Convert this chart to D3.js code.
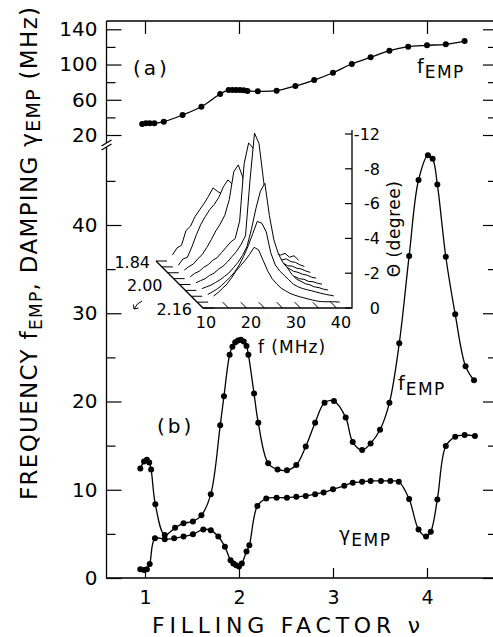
<!DOCTYPE html>
<html><head><meta charset="utf-8">
<script src="https://cdn.jsdelivr.net/npm/d3@7"></script>
<style>body{margin:0;background:#fff}svg{display:block}</style>
</head><body>
<svg id="c" width="493" height="637"></svg>
<script>
// ---------------- DATA ----------------
// panel (a): f_EMP (MHz) vs filling factor
const nuA = [0.97,1.01,1.05,1.10,1.20,1.40,1.60,1.80,1.89,1.93,1.97,2.01,2.05,2.09,2.20,2.40,2.60,2.80,3.00,3.20,3.40,3.60,3.80,4.00,4.20,4.40];
const fEmpA = [32.5,33.3,33.3,33.3,35.1,42.7,52.1,66.5,71.1,71.1,71.1,71.1,70.7,70.0,69.6,70.3,75.6,82.4,90.7,100.6,108.2,115.7,120.3,121.8,123.0,126.7];
// panel (b): f_EMP
const nuFB = [0.95,0.99,1.02,1.045,1.065,1.11,1.21,1.32,1.41,1.51,1.60,1.70,1.80,1.84,1.90,1.93,1.96,1.99,2.02,2.05,2.08,2.10,2.16,2.205,2.31,2.41,2.51,2.61,2.71,2.81,2.91,3.01,3.135,3.21,3.31,3.40,3.50,3.60,3.705,3.81,3.91,4.01,4.06,4.11,4.20,4.30,4.41,4.50];
const fEmpB = [12.4,13.2,13.4,13.1,12.3,8.35,4.87,5.7,6.2,6.4,7.1,9.5,17.3,20.6,25.3,26.2,26.7,26.9,27.0,26.8,26.3,25.3,20.9,17.6,13.0,12.3,12.2,12.8,14.9,17.6,19.85,20.05,18.2,15.4,14.5,15.25,16.8,19.85,26.6,36.5,45.1,47.9,47.5,44.6,36.4,29.9,24.0,22.4];
// panel (b): gamma_EMP
const nuGB = [0.95,0.99,1.02,1.05,1.106,1.21,1.31,1.41,1.51,1.62,1.70,1.78,1.85,1.91,1.94,1.97,2.00,2.03,2.08,2.11,2.195,2.29,2.40,2.51,2.61,2.71,2.81,2.90,3.00,3.12,3.21,3.31,3.40,3.51,3.61,3.70,3.81,3.91,3.99,4.04,4.11,4.20,4.30,4.40,4.51];
const gEmpB = [1.0,0.9,1.0,1.6,4.5,4.4,4.5,4.7,4.95,5.5,5.4,4.7,3.55,2.0,1.65,1.45,1.3,1.65,3.0,3.7,8.15,9.0,9.1,9.1,9.2,9.3,9.5,9.7,10.05,10.45,10.8,10.9,11.0,11.0,11.0,10.9,8.95,5.5,4.7,5.25,8.9,14.95,16.0,16.2,16.1];
// axes
const xTicks = [1,2,3,4];
const yTicksA = [20,40,60,80,100,120,140];
const yLabelsA = [20,60,100,140];
const yTicksB = [0,5,10,15,20,25,30,35,40,45];
const yLabelsB = [0,10,20,30,40];
// inset: Kerr angle spectra theta(f) at several filling factors
const insetNu = [1.84,1.88,1.92,1.96,2.00,2.04,2.08,2.12];
const insetFreq = [13,14,15,16,17,18,19,20,21,22,23,24,25,26,27,28,29,30,31,32,33,34,35,36,37,38,39,40,41];
const theta184 = [0.35,0.75,0.9,1.75,2.0,2.55,2.93,3.3,3.72,4.2,4.0,3.85,3.1,2.2,1.7,1.35,1.12,0.95,0.82,0.75,0.62,0.58,0.5,0.46,0.34,0.44,0.22,0.3,0.05];
const theta188 = [0.1,0.45,0.55,1.15,1.85,2.45,2.9,3.3,3.6,4.0,4.6,5.0,4.75,3.8,2.8,2.0,1.5,1.15,0.95,0.8,0.72,0.6,0.52,0.4,0.46,0.3,0.26,0.12,0.03];
const theta192 = [0.15,0.35,0.5,0.8,1.05,1.45,1.9,2.4,2.8,3.3,4.2,5.8,6.2,5.5,4.0,2.8,2.0,1.5,1.15,0.92,0.78,0.6,0.55,0.4,0.38,0.26,0.22,0.1,0.02];
const theta196 = [0.1,0.3,0.42,0.65,0.8,1.05,1.2,1.5,1.8,2.1,2.3,3.3,6.6,7.8,7.5,6.0,4.2,2.8,2.0,1.4,1.0,0.72,0.58,0.42,0.36,0.25,0.2,0.08,0.03];
const theta200 = [0.1,0.22,0.33,0.52,0.65,0.88,1.05,1.3,1.6,1.9,2.3,2.8,6.0,8.7,8.1,6.0,4.0,2.4,1.5,1.0,0.74,0.5,0.45,0.33,0.3,0.18,0.16,0.07,0.02];
const theta204 = [0.1,0.2,0.3,0.45,0.6,0.8,1.0,1.3,1.6,2.0,2.5,3.5,4.7,5.7,6.15,4.3,2.9,2.1,1.6,1.3,0.92,0.65,0.52,0.38,0.32,0.2,0.16,0.07,0.02];
const theta208 = [0.1,0.25,0.4,0.6,0.85,1.1,1.4,1.8,2.3,2.9,3.6,4.3,4.2,3.7,2.5,1.8,1.45,1.2,0.95,0.7,0.55,0.45,0.38,0.32,0.25,0.18,0.12,0.07,0.02];
const theta212 = [0.35,0.55,0.8,1.05,1.4,1.8,2.1,2.4,2.75,3.15,3.0,2.4,1.8,1.35,1.05,0.8,0.65,0.5,0.4,0.32,0.25,0.18,0.12,0.06,0.03,0.02,0.02,0.02,0.0];
const insetThetaTicks = [0,2,4,6,8,10];
const insetThetaLabels = ["0","-2","-4","-6","-8","-12"];
const insetFTicks = [10,20,30,40];
const insetFHash = [15,19,23,27,31,35,39];
const depthTicks = [1.84,1.88,1.92,1.96,2.00,2.04,2.08,2.12,2.16];
const depthLabels = ["1.84","2.00","2.16"];

// ---------------- DRAW ----------------
const FONT = "DejaVu Sans";
const svg = d3.select('#c');
const L = 106.5, R = 494, T = 21, B = 578;
const x = d3.scaleLinear().domain([1,4]).range([145,427]);
const yA = d3.scaleLinear().domain([20,140]).range([135,29.3]);
const yB = d3.scaleLinear().domain([0,40]).range([578,225]);

// frame
svg.append('path').attr('d',`M${L},${T}H${R}M${L},${T}V${B}H${R}M${R},${T}V${B}`)
  .attr('fill','none').attr('stroke','#000').attr('stroke-width',1.3);

function styleAxis(g, size){
  g.select('.domain').remove();
  g.attr('font-family',FONT).attr('font-size',size);
  g.selectAll('.tick line').attr('stroke','#000').attr('stroke-width',1.2);
  g.selectAll('.tick text').attr('fill','#000');
}
const minorA = yTicksA.filter(v=>!yLabelsA.includes(v));
const minorB = yTicksB.filter(v=>!yLabelsB.includes(v));
// left
svg.append('g').attr('transform',`translate(${L},0)`)
  .call(d3.axisLeft(yA).tickValues(yLabelsA).tickSizeInner(-15).tickSizeOuter(0).tickPadding(9).tickFormat(d3.format('d'))).call(g=>styleAxis(g,20));
svg.append('g').attr('transform',`translate(${L},0)`)
  .call(d3.axisLeft(yA).tickValues(minorA).tickSizeInner(-9).tickSizeOuter(0).tickFormat('')).call(g=>styleAxis(g,20));
svg.append('g').attr('transform',`translate(${L},0)`)
  .call(d3.axisLeft(yB).tickValues(yLabelsB).tickSizeInner(-15).tickSizeOuter(0).tickPadding(9).tickFormat(d3.format('d'))).call(g=>styleAxis(g,20));
svg.append('g').attr('transform',`translate(${L},0)`)
  .call(d3.axisLeft(yB).tickValues(minorB).tickSizeInner(-9).tickSizeOuter(0).tickFormat('')).call(g=>styleAxis(g,20));
// right
svg.append('g').attr('transform',`translate(${R},0)`)
  .call(d3.axisRight(yA).tickValues(yLabelsA).tickSizeInner(-11).tickSizeOuter(0).tickFormat('')).call(g=>styleAxis(g,20));
svg.append('g').attr('transform',`translate(${R},0)`)
  .call(d3.axisRight(yA).tickValues(minorA).tickSizeInner(-6).tickSizeOuter(0).tickFormat('')).call(g=>styleAxis(g,20));
svg.append('g').attr('transform',`translate(${R},0)`)
  .call(d3.axisRight(yB).tickValues(yLabelsB).tickSizeInner(-11).tickSizeOuter(0).tickFormat('')).call(g=>styleAxis(g,20));
svg.append('g').attr('transform',`translate(${R},0)`)
  .call(d3.axisRight(yB).tickValues(minorB).tickSizeInner(-6).tickSizeOuter(0).tickFormat('')).call(g=>styleAxis(g,20));
// top / bottom
svg.append('g').attr('transform',`translate(0,${T})`)
  .call(d3.axisTop(x).tickValues(xTicks).tickSizeInner(-13).tickSizeOuter(0).tickFormat('')).call(g=>styleAxis(g,19));
svg.append('g').attr('transform',`translate(0,${B})`)
  .call(d3.axisBottom(x).tickValues(xTicks).tickSizeInner(-10).tickSizeOuter(0).tickPadding(13).tickFormat(d3.format('d'))).call(g=>styleAxis(g,19));

// axis break marks
svg.append('rect').attr('x',L-2).attr('y',143).attr('width',4).attr('height',4).attr('fill','#fff');
[0,4].forEach(d=>{
  svg.append('line').attr('x1',L-5).attr('y1',146+d).attr('x2',L+5).attr('y2',140+d)
    .attr('stroke','#000').attr('stroke-width',1.2);
});

// curves
const lineA = d3.line().x(d=>x(d[0])).y(d=>yA(d[1])).curve(d3.curveCatmullRom.alpha(0.5));
const lineB = d3.line().x(d=>x(d[0])).y(d=>yB(d[1])).curve(d3.curveCatmullRom.alpha(0.5));
const serA = nuA.map((n,i)=>[n,fEmpA[i]]);
const serF = nuFB.map((n,i)=>[n,fEmpB[i]]);
const serG = nuGB.map((n,i)=>[n,gEmpB[i]]);
[[serA,lineA,yA],[serF,lineB,yB],[serG,lineB,yB]].forEach(([s,ln,ys])=>{
  svg.append('path').attr('d',ln(s)).attr('fill','none').attr('stroke','#000').attr('stroke-width',1.3);
  svg.append('g').selectAll('circle').data(s).join('circle')
    .attr('cx',d=>x(d[0])).attr('cy',d=>ys(d[1])).attr('r',3).attr('fill','#000');
});

// text labels in plot
function txt(xp,yp,s,size){ return svg.append('text').attr('x',xp).attr('y',yp).attr('font-family',FONT).attr('font-size',size).attr('fill','#000').text(s); }
txt(133,75,'(a)',20).attr('letter-spacing',3);
txt(157,433,'(b)',20).attr('letter-spacing',3);
function subLabel(xp,yp,main,sub){
  const t = svg.append('text').attr('x',xp).attr('y',yp).attr('font-family',FONT).attr('font-size',19).attr('fill','#000');
  t.append('tspan').text(main);
  t.append('tspan').attr('dy',5).attr('dx',1).attr('font-size',17).attr('letter-spacing',1.5).text(sub);
  return t;
}
subLabel(417,73,'f','EMP');
subLabel(398,390,'f','EMP');
subLabel(339,541,'γ','EMP');

// axis titles
const xt = svg.append('text').attr('x',152).attr('y',633).attr('font-family',FONT).attr('font-size',22).attr('fill','#000').text('FILLING FACTOR ν');
function fit(t,target){ const w=t.node().getComputedTextLength(); const n=t.text().length; t.attr('letter-spacing',(target-w)/(n-1)); }
fit(xt,268);
const yt0 = svg.append('text').attr('transform','translate(37,500) rotate(-90)').attr('font-family',FONT).attr('font-size',23).attr('fill','#000');
yt0.append('tspan').text('FREQUENCY f');
yt0.append('tspan').attr('dy',5).attr('font-size',17).text('EMP');
yt0.append('tspan').attr('dy',-5).text(', DAMPING γ');
yt0.append('tspan').attr('dy',3).attr('font-size',19).text('EMP');
yt0.append('tspan').attr('dy',-3).text(' (MHz)');
fit(yt0,493);

// ---------------- INSET ----------------
const xf = d3.scaleLinear().domain([10,40]).range([206,341]);
const yt = d3.scaleLinear().domain([0,10]).range([308,134]);
const depth = d3.scaleLinear().domain([1.84,2.16]).range([-47,0]);
const X0 = 203, Y0 = 308, XR = 352;
const g = svg.append('g');
// f axis baseline, theta axis, depth axis
g.append('path').attr('d',`M${X0+depth(1.84)},${Y0+depth(1.84)}L${X0},${Y0}H${XR}V${130}`)
  .attr('fill','none').attr('stroke','#000').attr('stroke-width',1.3);
depthTicks.forEach(n=>{
  g.append('line').attr('x1',X0+depth(n)).attr('y1',Y0+depth(n)).attr('x2',X0+depth(n)+11).attr('y2',Y0+depth(n))
    .attr('stroke','#000').attr('stroke-width',1);
});
insetFHash.forEach(f=>{
  g.append('line').attr('x1',xf(f)-7).attr('y1',Y0-7).attr('x2',xf(f)).attr('y2',Y0)
    .attr('stroke','#000').attr('stroke-width',1);
});
insetThetaTicks.forEach((t,i)=>{
  g.append('line').attr('x1',XR-7).attr('x2',XR).attr('y1',yt(t)).attr('y2',yt(t)).attr('stroke','#000').attr('stroke-width',1.2);
  g.append('text').attr('x',380).attr('y',yt(t)).attr('dy','0.36em').attr('text-anchor','end')
    .attr('font-family',FONT).attr('font-size',16).attr('fill','#000').text(insetThetaLabels[i]);
});
insetFTicks.forEach(f=>{
  g.append('text').attr('x',xf(f)).attr('y',328).attr('text-anchor','middle')
    .attr('font-family',FONT).attr('font-size',16).attr('fill','#000').text(f);
});
g.append('text').attr('x',292).attr('y',353).attr('text-anchor','middle').attr('font-family',FONT).attr('font-size',17)
  .attr('letter-spacing',1).attr('fill','#000').text('f (MHz)');
g.append('text').attr('transform','translate(400,229) rotate(-90)').attr('text-anchor','middle').attr('font-family',FONT)
  .attr('font-size',17).attr('letter-spacing',0.5).attr('fill','#000').text('Θ (degree)');
const depthLabelNudge = {"1.84":-6,"2.00":-17,"2.16":-11};
depthLabels.forEach(s=>{
  const n = +s;
  g.append('text').attr('x',X0+depth(n)+depthLabelNudge[s]).attr('y',Y0+depth(n)+1).attr('dy','0.36em').attr('text-anchor','end')
    .attr('font-family',FONT).attr('font-size',16).attr('fill','#000').text(s);
});
// little arrow
g.append('path').attr('d','M142,301 Q137,303 134,309 M134,309 L133.5,304.5 M134,309 L138.5,308')
  .attr('fill','none').attr('stroke','#000').attr('stroke-width',1);
// spectra, back to front with hidden-line removal
const thetas = [theta184,theta188,theta192,theta196,theta200,theta204,theta208,theta212];
insetNu.forEach((n,k)=>{
  const pts = insetFreq.map((f,i)=>[f,thetas[k][i]]);
  const off = depth(n);
  const area = d3.area().x(d=>xf(d[0])+off).y0(yt(0)+off).y1(d=>yt(d[1])+off);
  const ln = d3.line().x(d=>xf(d[0])+off).y(d=>yt(d[1])+off);
  g.append('path').attr('d',area(pts)).attr('fill','#fff');
  g.append('path').attr('d',ln(pts)).attr('fill','none').attr('stroke','#000').attr('stroke-width',1).attr('stroke-linejoin','round');
});
</script>
</body></html>
